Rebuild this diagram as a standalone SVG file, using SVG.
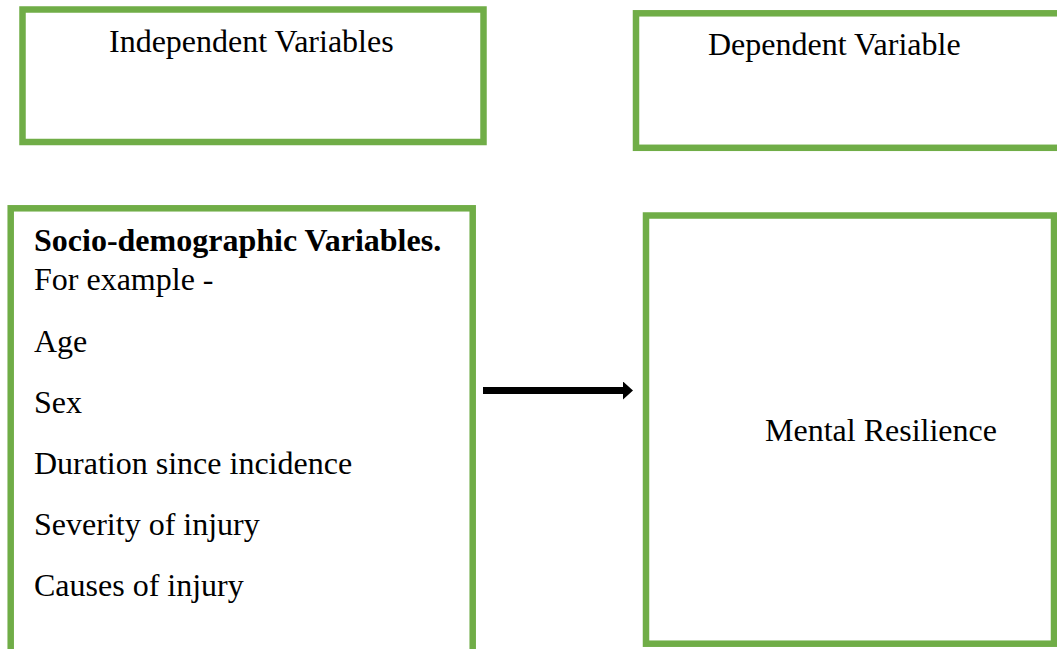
<svg xmlns="http://www.w3.org/2000/svg" width="1057" height="649" viewBox="0 0 1057 649">
  <style>
    .box { fill: #FFFFFF; stroke: #70AD47; stroke-width: 6.5; }
    .t { font-family: "Liberation Serif", "Times New Roman", serif; font-size: 32px; fill: #000000; }
    .b { font-weight: bold; }
  </style>
  <defs>
    <marker id="arrowhead" markerUnits="userSpaceOnUse" markerWidth="12" markerHeight="20" refX="0" refY="9" orient="auto">
      <polygon points="0,0 10,9 0,18" fill="#000000"/>
    </marker>
  </defs>
  <rect width="1057" height="649" fill="#FFFFFF"/>
  <g id="independent-variables">
    <rect class="box" x="22.5" y="9.5" width="461" height="132.5"/>
    <text class="t" x="109" y="52">Independent Variables</text>
  </g>
  <g id="dependent-variable">
    <rect class="box" x="636" y="13.3" width="430" height="134.5"/>
    <text class="t" x="708" y="55">Dependent Variable</text>
  </g>
  <g id="socio-demographic">
    <rect class="box" x="10.7" y="208.3" width="462" height="460"/>
    <text class="t b" x="34" y="251">Socio-demographic Variables.</text>
    <text class="t" x="34" y="290">For example -</text>
    <text class="t" x="34" y="352">Age</text>
    <text class="t" x="34" y="413">Sex</text>
    <text class="t" x="34" y="474">Duration since incidence</text>
    <text class="t" x="34" y="535">Severity of injury</text>
    <text class="t" x="34" y="596">Causes of injury</text>
  </g>
  <g id="mental-resilience">
    <rect class="box" x="646" y="215.5" width="408" height="428.2"/>
    <text class="t" x="765" y="441">Mental Resilience</text>
  </g>
  <g id="connectors">
    <line x1="483" y1="390.5" x2="623" y2="390.5" stroke="#000000" stroke-width="7" marker-end="url(#arrowhead)"/>
  </g>
</svg>
